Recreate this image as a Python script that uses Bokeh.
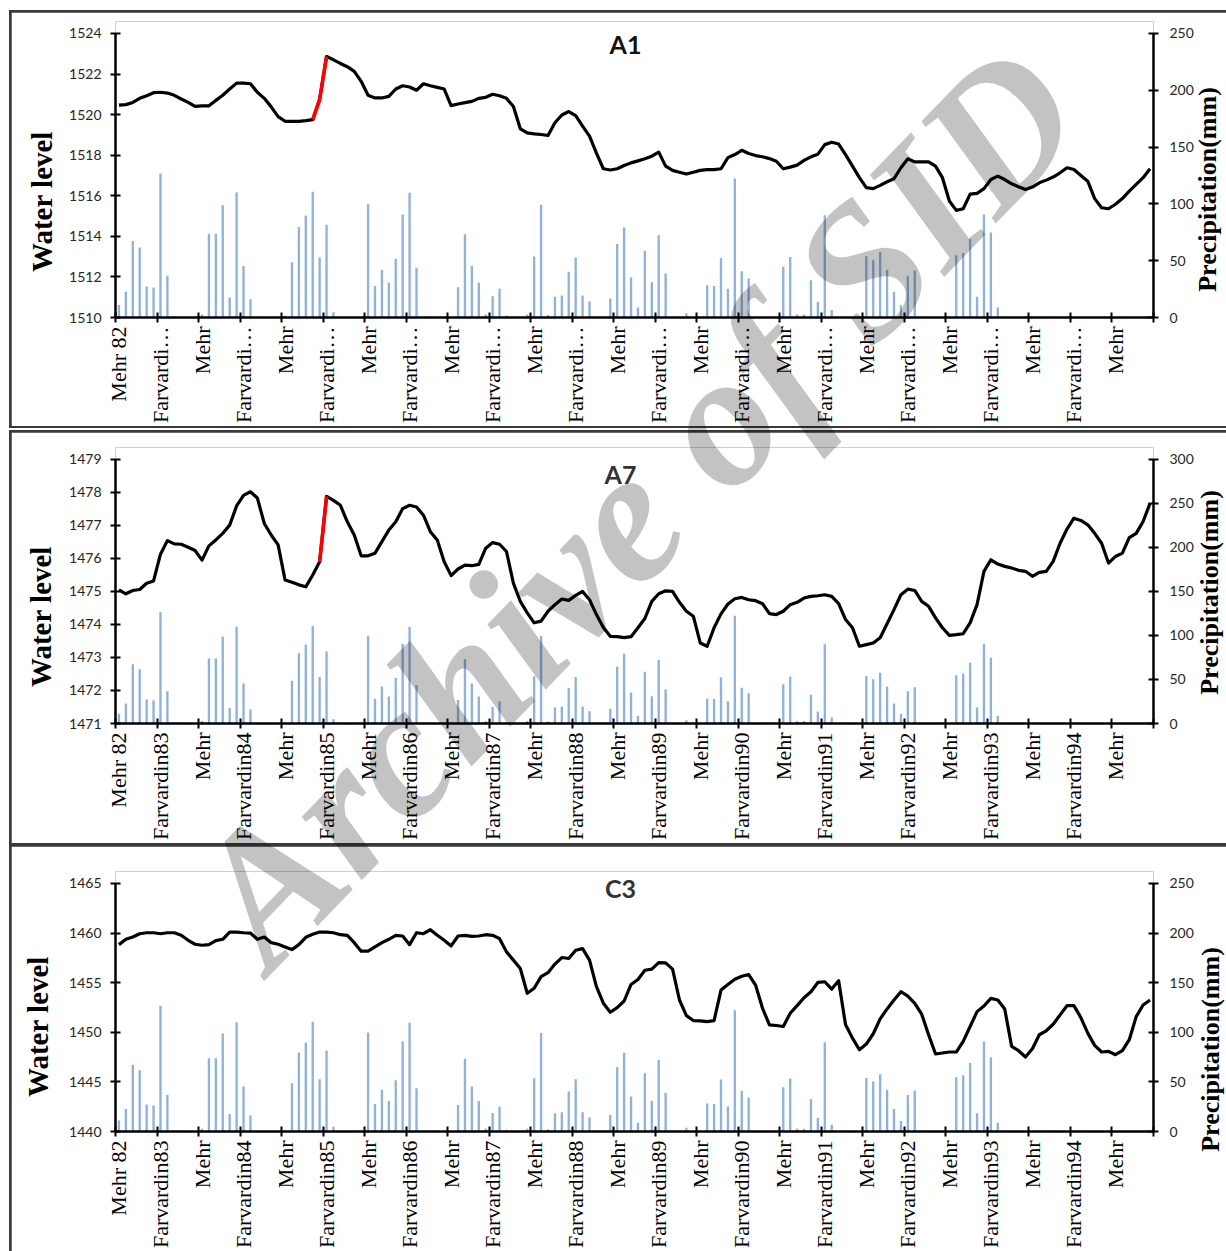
import math
from bokeh.plotting import figure
from bokeh.models import Range1d, LinearAxis, FixedTicker, Label, Spacer
from bokeh.layouts import column, row
from bokeh.embed import file_html
from bokeh.resources import INLINE

# ---------------- data (monthly, Mehr 82 .. Esfand 94) ----------------
precip = [
    11, 22.7, 67.3, 61.7, 27.3, 26.3, 126.7, 36.7, 1, 0, 0, 0,
    2.7, 73.7, 73.7, 98.7, 17.7, 110, 45.3, 16, 0, 0, 0, 0,
    1.5, 48.7, 79.7, 89.7, 110.7, 52.7, 81.7, 4.7, 0, 0, 0, 0,
    99.7, 27.7, 42, 30.7, 51.7, 90.7, 109.7, 43.7, 0, 1, 0, 0,
    0, 26.7, 73.3, 45.3, 30.7, 2.7, 18.7, 25.3, 1.7, 0, 0, 2.7,
    53.7, 99.3, 2.3, 18.3, 19.3, 40.3, 52.7, 19.3, 14, 0, 0, 16.7,
    64.7, 79.3, 35.3, 8.7, 58.7, 31, 72.3, 38.7, 0, 0, 3.7, 0,
    0, 28.3, 27.7, 52.3, 25.3, 122.3, 40.7, 34.3, 0, 0, 0, 0,
    44.7, 53.3, 2.7, 2.7, 32.7, 13.7, 90, 6.7, 0, 0, 0, 0,
    54, 50.3, 57.7, 42, 22.7, 10.7, 36.7, 41.3, 0, 0, 0, 0,
    0, 54.7, 56.7, 69, 18.3, 90.7, 74.7, 8.7, 0, 0, 0, 0,
    0, 0, 0, 0, 0, 0, 0, 0, 0, 0, 0, 0,
    0, 0, 0, 0, 0, 0,
]

level_A1 = [
    1520.47, 1520.49, 1520.6, 1520.8, 1520.93, 1521.08, 1521.1, 1521.06, 1520.95, 1520.77,
    1520.6, 1520.4, 1520.43, 1520.43, 1520.7, 1520.95, 1521.26, 1521.55, 1521.55, 1521.52,
    1521.1, 1520.8, 1520.38, 1519.9, 1519.67, 1519.67, 1519.67, 1519.7, 1519.75, 1520.74,
    1522.86, 1522.7, 1522.52, 1522.36, 1522.13, 1521.64, 1520.95, 1520.82, 1520.82, 1520.9,
    1521.26, 1521.42, 1521.36, 1521.2, 1521.52, 1521.42, 1521.34, 1521.26, 1520.44, 1520.52,
    1520.59, 1520.65, 1520.8, 1520.85, 1521.0, 1520.93, 1520.8, 1520.4, 1519.3, 1519.1,
    1519.05, 1519.02, 1518.97, 1519.6, 1519.98, 1520.15, 1519.95, 1519.43, 1518.94, 1518.1,
    1517.33, 1517.27, 1517.33, 1517.49, 1517.62, 1517.72, 1517.82, 1517.95, 1518.15, 1517.46,
    1517.25, 1517.16, 1517.07, 1517.16, 1517.25, 1517.29, 1517.29, 1517.33, 1517.88, 1518.03,
    1518.24, 1518.08, 1517.98, 1517.92, 1517.83, 1517.7, 1517.33, 1517.41, 1517.51, 1517.74,
    1517.92, 1518.05, 1518.52, 1518.64, 1518.55, 1518.03, 1517.46, 1516.89, 1516.4, 1516.35,
    1516.51, 1516.69, 1516.84, 1517.38, 1517.82, 1517.67, 1517.67, 1517.67, 1517.46, 1516.89,
    1515.74, 1515.28, 1515.36, 1516.08, 1516.12, 1516.35, 1516.8, 1516.97, 1516.8, 1516.59,
    1516.44, 1516.31, 1516.43, 1516.64, 1516.77, 1516.92, 1517.13, 1517.38, 1517.29, 1517.0,
    1516.72, 1515.86, 1515.41, 1515.36, 1515.58, 1515.86, 1516.23, 1516.56, 1516.89, 1517.33,
]

level_A7 = [
    1475.05, 1474.93, 1475.03, 1475.06, 1475.25, 1475.32, 1476.13, 1476.54, 1476.44, 1476.43,
    1476.34, 1476.24, 1475.95, 1476.38, 1476.56, 1476.76, 1477.01, 1477.59, 1477.91, 1478.02,
    1477.83, 1477.06, 1476.71, 1476.41, 1475.35, 1475.28, 1475.2, 1475.14, 1475.5, 1475.9,
    1477.88, 1477.76, 1477.61, 1477.11, 1476.71, 1476.08, 1476.08, 1476.16, 1476.51, 1476.86,
    1477.11, 1477.51, 1477.61, 1477.56, 1477.31, 1476.81, 1476.56, 1475.9, 1475.48, 1475.68,
    1475.8, 1475.78, 1475.82, 1476.31, 1476.48, 1476.43, 1476.21, 1475.25, 1474.7, 1474.35,
    1474.05, 1474.1, 1474.4, 1474.6, 1474.77, 1474.73, 1474.88, 1475.0, 1474.75, 1474.3,
    1473.91, 1473.64, 1473.63, 1473.6, 1473.63, 1473.9, 1474.18, 1474.7, 1474.93, 1475.02,
    1475.0, 1474.67, 1474.4, 1474.25, 1473.44, 1473.34, 1473.9, 1474.32, 1474.62, 1474.78,
    1474.82, 1474.75, 1474.72, 1474.63, 1474.33, 1474.3, 1474.4, 1474.6, 1474.67, 1474.8,
    1474.85, 1474.87, 1474.9, 1474.85, 1474.63, 1474.15, 1473.9, 1473.34, 1473.39, 1473.44,
    1473.6, 1474.02, 1474.45, 1474.9, 1475.07, 1475.03, 1474.7, 1474.55, 1474.2, 1473.9,
    1473.67, 1473.69, 1473.72, 1474.05, 1474.6, 1475.61, 1475.96, 1475.83, 1475.76, 1475.71,
    1475.64, 1475.61, 1475.46, 1475.58, 1475.61, 1475.91, 1476.46, 1476.89, 1477.22, 1477.15,
    1477.02, 1476.76, 1476.46, 1475.86, 1476.06, 1476.16, 1476.63, 1476.76, 1477.12, 1477.67,
]

level_C3 = [
    1458.83, 1459.37, 1459.6, 1459.93, 1460.03, 1460.03, 1459.93, 1460.03, 1460.03, 1459.77,
    1459.27, 1458.87, 1458.77, 1458.83, 1459.23, 1459.37, 1460.1, 1460.1, 1460.03, 1460.0,
    1459.37, 1459.6, 1459.03, 1458.87, 1458.6, 1458.33, 1458.83, 1459.57, 1459.87, 1460.1,
    1460.1, 1460.03, 1459.83, 1459.77, 1459.03, 1458.17, 1458.17, 1458.6, 1459.03, 1459.37,
    1459.77, 1459.7, 1458.83, 1460.03, 1459.93, 1460.33, 1459.77, 1459.27, 1458.7, 1459.7,
    1459.77, 1459.67, 1459.7, 1459.83, 1459.77, 1459.43, 1458.1, 1457.27, 1456.43, 1453.93,
    1454.43, 1455.6, 1456.0, 1456.87, 1457.53, 1457.43, 1458.27, 1458.43, 1457.27, 1454.6,
    1452.93, 1452.02, 1452.48, 1453.15, 1454.82, 1455.32, 1456.25, 1456.36, 1457.02, 1456.99,
    1456.36, 1453.25, 1451.68, 1451.18, 1451.15, 1451.08, 1451.18, 1454.25, 1454.82, 1455.35,
    1455.65, 1455.82, 1454.75, 1452.42, 1450.75, 1450.68, 1450.58, 1451.92, 1452.68, 1453.48,
    1454.09, 1455.02, 1455.09, 1454.35, 1455.19, 1450.75, 1449.41, 1448.24, 1448.81, 1449.85,
    1451.35, 1452.35, 1453.25, 1454.09, 1453.65, 1452.92, 1451.82, 1449.75, 1447.81, 1447.91,
    1448.01, 1448.01, 1449.08, 1450.58, 1452.08, 1452.65, 1453.42, 1453.25, 1452.35, 1448.58,
    1448.14, 1447.51, 1448.34, 1449.75, 1450.15, 1450.81, 1451.75, 1452.68, 1452.68, 1451.48,
    1449.91, 1448.68, 1448.01, 1448.08, 1447.74, 1448.14, 1449.25, 1451.58, 1452.75, 1453.25,
]

# months (indices) of the red highlighted rise
red_A1 = [28, 29, 30]
red_A7 = [29, 30]

label_months = list(range(0, 145, 6))
labels_A1 = ["Mehr 82", "Farvardi…", "Mehr", "Farvardi…", "Mehr", "Farvardi…", "Mehr",
             "Farvardi…", "Mehr", "Farvardi…", "Mehr", "Farvardi…", "Mehr", "Farvardi…",
             "Mehr", "Farvardi…", "Mehr", "Farvardi…", "Mehr", "Farvardi…", "Mehr",
             "Farvardi…", "Mehr", "Farvardi…", "Mehr"]
labels_full = ["Mehr 82", "Farvardin83", "Mehr", "Farvardin84", "Mehr", "Farvardin85", "Mehr",
               "Farvardin86", "Mehr", "Farvardin87", "Mehr", "Farvardin88", "Mehr", "Farvardin89",
               "Mehr", "Farvardin90", "Mehr", "Farvardin91", "Mehr", "Farvardin92", "Mehr",
               "Farvardin93", "Mehr", "Farvardin94", "Mehr"]

left_title = "Water level"
right_title = "Precipitation(mm)"

N = len(precip)
xs = [k + 0.5 for k in range(N)]

# ---------------- layout geometry (page pixels) ----------------
FRAME_LEFT, FRAME_RIGHT = 115, 1153
FIG_LEFT, PAGE_W, PAGE_H = 11, 1226, 1251
EXT = 12  # frame extends above the top tick

panels = [
    dict(name="A1", ymin=1510, ymax=1524, ystep=2, pmax=250, levels=level_A1, red=red_A1,
         labels=labels_A1, fig_top=12, axis_top=33, axis_bottom=319, fig_bottom=426,
         title_xy=(625, 43.5), title_color="#111111", margin=(2, 0, 2, 2),
         left_xy=(41, 201), right_xy=(1207, 189)),
    dict(name="A7", ymin=1471, ymax=1479, ystep=1, pmax=300, levels=level_A7, red=red_A7,
         labels=labels_full, fig_top=432, axis_top=459, axis_bottom=725, fig_bottom=843,
         title_xy=(620, 474), title_color="#333333", margin=(2, 0, 2, 2),
         left_xy=(40, 616), right_xy=(1209, 592)),
    dict(name="C3", ymin=1440, ymax=1465, ystep=5, pmax=250, levels=level_C3, red=None,
         labels=labels_full, fig_top=846, axis_top=883, axis_bottom=1133, fig_bottom=1251,
         title_xy=(620, 887.5), title_color="#333333", margin=(1, 0, 0, 2),
         left_xy=(37, 1026), right_xy=(1210, 1049)),
]


def to_data(gx, gy, P):
    ppu = (P["axis_bottom"] - P["axis_top"]) / (P["ymax"] - P["ymin"])
    x = (gx - FRAME_LEFT) * N / (FRAME_RIGHT - FRAME_LEFT)
    y = P["ymin"] + (P["axis_bottom"] - gy) / ppu
    return x, y


def make_panel(P):
    ppu = (P["axis_bottom"] - P["axis_top"]) / (P["ymax"] - P["ymin"])
    ext_u = EXT / ppu
    yr = Range1d(P["ymin"], P["ymax"] + ext_u)
    pr_end = P["pmax"] * (1 + ext_u / (P["ymax"] - P["ymin"]))
    h = P["fig_bottom"] - P["fig_top"]
    p = figure(width=PAGE_W - FIG_LEFT, height=h, x_range=Range1d(0, N), y_range=yr,
               output_backend="svg", toolbar_location=None, title=None,
               min_border_left=FRAME_LEFT - FIG_LEFT, min_border_right=PAGE_W - FRAME_RIGHT,
               min_border_top=P["axis_top"] - EXT - P["fig_top"],
               min_border_bottom=P["fig_bottom"] - P["axis_bottom"])
    p.extra_y_ranges = {"precip": Range1d(0, pr_end)}
    p.xgrid.visible = False
    p.ygrid.visible = False
    p.outline_line_color = None
    p.background_fill_color = "white"
    p.border_fill_color = "white"

    # precipitation bars
    p.vbar(x=xs, top=precip, bottom=0, width=0.34, y_range_name="precip",
           fill_color="#8FB2DC", line_color=None)
    # water level
    p.line(xs, P["levels"], line_color="black", line_width=3.2, line_join="round")
    if P["red"]:
        p.line([xs[k] for k in P["red"]], [P["levels"][k] for k in P["red"]],
               line_color="#FF0000", line_width=3.6, line_join="round")

    # x axis
    xa = p.xaxis[0]
    xa.ticker = FixedTicker(ticks=[m + 0.5 for m in label_months],
                            minor_ticks=list(range(0, N + 1, 6)))
    xa.major_label_overrides = {m + 0.5: lab for m, lab in zip(label_months, P["labels"])}
    xa.major_label_orientation = math.pi / 2
    xa.major_label_text_font = "Liberation Serif"
    xa.major_label_text_font_size = "22px"
    xa.major_label_text_color = "black"
    xa.major_label_standoff = 4
    xa.major_tick_line_color = None
    xa.major_tick_in = 0
    xa.major_tick_out = 5
    xa.minor_tick_line_color = "black"
    xa.minor_tick_line_width = 2
    xa.minor_tick_in = 5
    xa.minor_tick_out = 5
    xa.axis_line_width = 2.5
    xa.axis_line_color = "black"

    # left axis (water level)
    ya = p.yaxis[0]
    ya.ticker = FixedTicker(ticks=list(range(P["ymin"], P["ymax"] + 1, P["ystep"])))
    ya.bounds = (P["ymin"], P["ymax"])
    ya.axis_line_width = 2.5
    ya.major_tick_line_width = 2
    ya.major_tick_in = 5
    ya.major_tick_out = 5
    ya.minor_tick_line_color = None
    ya.major_label_text_font = "Lato"
    ya.major_label_text_font_size = "14px"
    ya.major_label_text_color = "#262626"
    ya.major_label_standoff = 9

    # right axis (precipitation)
    ra = LinearAxis(y_range_name="precip",
                    ticker=FixedTicker(ticks=list(range(0, P["pmax"] + 1, 50))),
                    bounds=(0, P["pmax"]))
    ra.axis_line_width = 2.5
    ra.major_tick_line_width = 2
    ra.major_tick_in = 5
    ra.major_tick_out = 5
    ra.minor_tick_line_color = None
    ra.major_label_text_font = "Lato"
    ra.major_label_text_font_size = "14px"
    ra.major_label_text_color = "#262626"
    ra.major_label_standoff = 11
    p.add_layout(ra, "right")

    # panel title
    tx, ty = to_data(P["title_xy"][0], P["title_xy"][1], P)
    p.add_layout(Label(x=tx, y=ty, text=P["name"], text_font="Lato", text_font_style="bold",
                       text_font_size="25px", text_color=P["title_color"],
                       text_align="center", text_baseline="middle"))
    p.margin = P["margin"]
    return column(p, styles={"background-color": "#3a3a3a"})


boxes = [make_panel(P) for P in panels]

# transparent full-page overlay: axis titles and the archive watermark
ov = figure(width=PAGE_W, height=PAGE_H, x_range=Range1d(0, PAGE_W), y_range=Range1d(PAGE_H, 0),
            output_backend="svg", toolbar_location=None, title=None,
            x_axis_type=None, y_axis_type=None, min_border=0,
            styles={"position": "absolute", "left": "0px", "top": "0px",
                    "z-index": "10", "pointer-events": "none"})
ov.xgrid.visible = False
ov.ygrid.visible = False
ov.outline_line_color = None
ov.background_fill_alpha = 0
ov.border_fill_alpha = 0
for P in panels:
    ov.add_layout(Label(x=P["left_xy"][0], y=P["left_xy"][1], text=left_title,
                        angle=math.pi / 2, text_font="Liberation Serif", text_font_style="bold",
                        text_font_size="29px", text_color="black",
                        text_align="center", text_baseline="middle"))
    ov.add_layout(Label(x=P["right_xy"][0], y=P["right_xy"][1], text=right_title,
                        angle=math.pi / 2, text_font="Liberation Serif", text_font_style="bold",
                        text_font_size="26px", text_color="black",
                        text_align="center", text_baseline="middle"))
ov.add_layout(Label(x=635, y=504, text="Archive of SID", angle=math.radians(46),
                    text_font="Liberation Serif", text_font_style="bold italic",
                    text_font_size="190px", text_color="black", text_alpha=0.235,
                    text_align="center", text_baseline="middle"))

root = column(
    Spacer(width=PAGE_W, height=10),
    row(Spacer(width=9, height=10), boxes[0]),
    Spacer(width=PAGE_W, height=2),
    row(Spacer(width=9, height=10), boxes[1]),
    row(Spacer(width=9, height=10), boxes[2]),
    ov,
)

open("out.html", "w").write(file_html(root, INLINE))
